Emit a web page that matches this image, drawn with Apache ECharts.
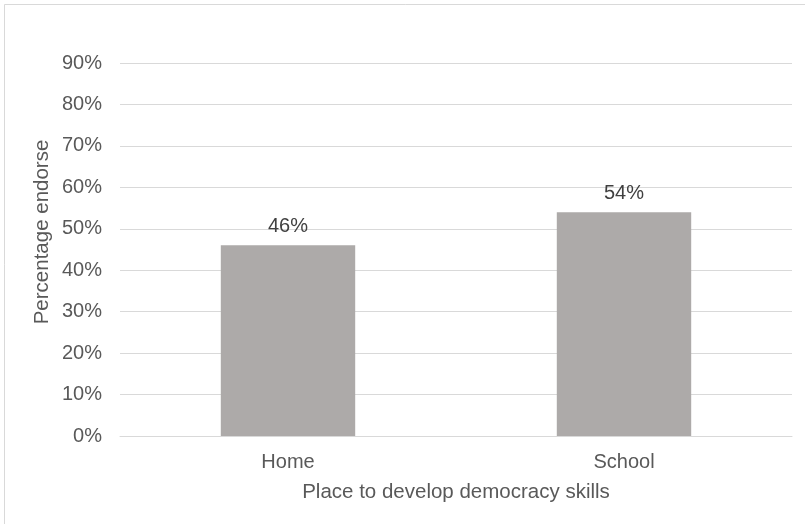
<!DOCTYPE html>
<html>
<head>
<meta charset="utf-8">
<script src="https://cdn.jsdelivr.net/npm/echarts@6/dist/echarts.min.js"></script>
<style>
  html, body { margin: 0; padding: 0; background: #ffffff; }
  #chart { width: 805px; height: 524px; }
</style>
</head>
<body>
<div id="chart"></div>
<script>
// Share of respondents endorsing each place to develop democracy skills
const categories = ['Home', 'School'];
const endorsePct = [46, 54];
const yTicksMax = 90;
const yTickStep = 10;

const FONT = '"Liberation Sans", Arial, sans-serif';
const FS = 20;

const chart = echarts.init(document.getElementById('chart'), null, { renderer: 'canvas' });

chart.setOption({
  animation: false,
  backgroundColor: '#ffffff',
  textStyle: { fontFamily: FONT },
  grid: { left: 120, right: 13, top: 63, bottom: 88, containLabel: false },
  graphic: [
    {
      type: 'rect',
      shape: { x: 4.5, y: 4.5, width: 830, height: 550 },
      style: { fill: 'none', stroke: '#d9d9d9', lineWidth: 1 },
      silent: true
    },
    {
      type: 'text',
      x: 42,
      y: 232,
      rotation: Math.PI / 2,
      style: {
        text: 'Percentage endorse',
        fill: '#595959',
        font: '20.5px ' + FONT,
        align: 'center',
        verticalAlign: 'middle'
      }
    }
  ],
  xAxis: {
    type: 'category',
    data: categories,
    name: 'Place to develop democracy skills',
    nameLocation: 'middle',
    nameGap: 46,
    nameTextStyle: { color: '#595959', fontSize: 20.5, fontFamily: FONT },
    axisLine: { show: true, lineStyle: { color: '#d9d9d9', width: 1 } },
    axisTick: { show: false },
    axisLabel: { color: '#595959', fontSize: FS, margin: 16, fontFamily: FONT }
  },
  yAxis: {
    type: 'value',
    min: 0,
    max: yTicksMax,
    interval: yTickStep,
    axisLine: { show: false },
    axisTick: { show: false },
    splitLine: { show: true, lineStyle: { color: '#d9d9d9', width: 1 } },
    axisLabel: {
      color: '#595959',
      fontSize: FS,
      margin: 18,
      fontFamily: FONT,
      formatter: v => v + '%'
    }
  },
  series: [
    {
      type: 'bar',
      data: endorsePct,
      barWidth: '40%',
      itemStyle: { color: '#adaaa9' },
      label: {
        show: true,
        position: 'top',
        distance: 9,
        color: '#404040',
        fontSize: FS,
        fontFamily: FONT,
        formatter: p => p.value + '%'
      }
    }
  ]
});
</script>
</body>
</html>
